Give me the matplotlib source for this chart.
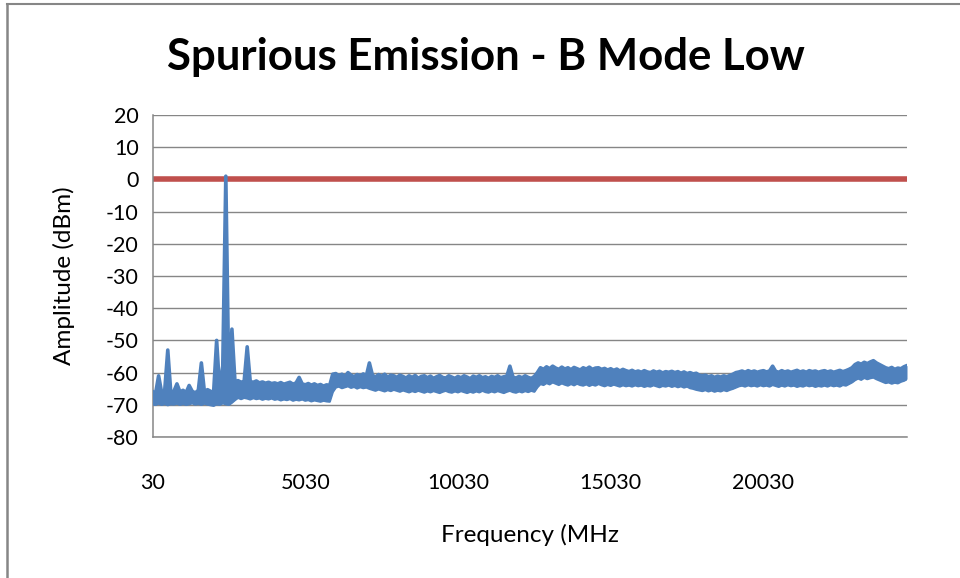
import matplotlib.pyplot as plt
import numpy as np
from matplotlib.lines import Line2D

# sweep: 30 MHz start, one reading every 100 MHz
freq_start_mhz = 30
freq_step_mhz = 100

# trace envelope per 100 MHz bin (dBm)
trace_max_dbm = [
    -65.8, -66.5, -61.0, -66.2, -65.5, -53.0, -66.3, -65.8, -63.5, -66.0,
    -65.5, -66.2, -64.0, -65.8, -66.3, -65.5, -57.0, -66.0, -65.3, -65.8,
    -66.2, -50.0, -65.5, -58.0, 1.0, -64.0, -46.5, -62.8, -62.5, -63.0,
    -62.7, -52.0, -62.8, -63.0, -62.6, -63.2, -62.9, -63.3, -63.0, -63.4,
    -63.2, -63.5, -63.1, -63.6, -63.3, -63.0, -63.6, -63.2, -61.5, -63.5,
    -63.8, -63.4, -63.9, -63.5, -64.0, -63.7, -64.2, -63.8, -64.0, -60.5,
    -60.3, -61.0, -60.5, -61.2, -60.0, -60.8, -61.3, -60.6, -61.0, -60.4,
    -61.0, -57.0, -60.8, -61.4, -60.6, -61.2, -60.5, -61.5, -60.8, -61.0,
    -61.5, -60.8, -61.2, -61.7, -61.0, -61.5, -60.9, -61.8, -61.2, -61.0,
    -61.6, -61.1, -61.8, -61.3, -60.9, -61.5, -61.7, -61.0, -61.4, -61.8,
    -61.2, -61.6, -61.0, -61.4, -61.9, -61.1, -61.5, -61.0, -61.6, -61.3,
    -61.8, -61.2, -61.5, -61.0, -61.6, -61.3, -61.1, -58.0, -61.4, -61.7,
    -61.2, -61.6, -61.0, -61.5, -61.8, -61.2, -60.0, -58.5, -59.0, -58.2,
    -58.8, -58.0, -58.6, -59.0, -58.3, -58.9, -58.5, -59.1, -58.4, -58.8,
    -59.2, -58.5, -58.9, -58.3, -59.0, -58.6, -58.5, -59.0, -58.7, -59.2,
    -58.8, -59.3, -58.9, -59.5, -59.0, -59.4, -59.7, -59.3, -59.8, -59.5,
    -59.9, -59.4, -59.8, -60.0, -59.5, -59.9, -59.6, -60.1, -59.7, -59.9,
    -59.6, -60.0, -59.7, -60.2, -59.8, -60.3, -60.0, -60.4, -60.2, -60.8,
    -61.0, -60.8, -61.3, -61.0, -61.5, -61.1, -61.4, -61.0, -61.3, -60.9,
    -60.5, -60.0, -59.8, -59.5, -59.9, -59.4, -59.8, -59.5, -59.9, -59.6,
    -59.4, -59.8, -59.5, -58.0, -59.6, -59.9, -59.4, -59.8, -59.5, -59.9,
    -59.6, -59.3, -59.8, -59.5, -59.9, -59.4, -59.7, -59.5, -59.9, -59.6,
    -59.4, -59.8, -59.5, -59.9, -59.6, -59.3, -59.7, -59.4, -59.0, -58.5,
    -57.5, -57.0, -57.4, -56.8, -57.2, -56.7, -56.3, -57.0, -57.5, -58.0,
    -58.5, -58.8, -58.4, -59.0, -58.6, -58.8, -58.2, -57.8,
]
trace_min_dbm = [
    -69.8, -70.0, -69.6, -70.0, -69.7, -70.1, -69.8, -69.9, -69.6, -70.0,
    -69.7, -70.0, -69.8, -69.5, -69.9, -69.7, -70.0, -69.6, -69.9, -70.1,
    -70.3, -69.8, -70.0, -69.5, -69.8, -70.0, -69.3, -68.5, -67.8, -68.2,
    -67.8, -68.0, -68.3, -67.9, -68.2, -68.0, -68.4, -68.1, -68.3, -68.0,
    -68.4, -68.2, -68.6, -68.3, -68.5, -68.2, -68.7, -68.4, -68.6, -68.3,
    -68.7, -68.5, -68.9, -68.6, -68.8, -69.0, -68.7, -68.9, -69.0, -66.0,
    -64.6, -64.3, -64.8, -64.5, -64.2, -64.7, -64.4, -64.9, -64.5, -64.8,
    -64.6, -65.0, -65.3, -65.6, -65.2, -65.5, -65.8, -65.4, -65.7, -65.3,
    -65.6, -65.9, -65.5, -65.8, -66.1, -65.7, -66.0, -65.6, -65.9, -66.2,
    -65.8, -66.1, -65.7, -66.0, -66.3, -65.9, -65.6, -66.0, -66.2, -65.8,
    -66.1, -65.7, -66.0, -66.3, -65.9, -66.2, -65.8, -66.1, -65.6, -66.0,
    -66.2, -65.8, -66.1, -65.7, -66.0, -66.3, -65.9, -65.6, -66.0, -66.2,
    -65.8, -66.1, -65.7, -66.0, -65.6, -65.9, -64.5, -63.5, -63.8, -63.2,
    -63.6, -63.0, -63.4, -63.8, -63.3, -63.7, -64.0, -63.5, -63.9, -63.4,
    -63.8, -64.0, -63.6, -64.1, -63.7, -64.0, -63.5, -63.9, -64.2, -63.8,
    -64.1, -63.7, -64.0, -64.3, -63.9, -64.2, -64.0, -64.3, -63.9, -64.2,
    -64.0, -64.4, -64.1, -64.3, -63.9, -64.2, -64.5, -64.1, -64.3, -64.0,
    -64.4, -64.1, -64.5, -64.2, -64.6, -64.3, -64.8, -65.0, -65.3, -65.5,
    -65.7, -65.4, -65.8, -65.5, -65.9, -65.6, -65.8, -65.4, -65.7, -65.3,
    -65.0, -64.6, -64.2, -64.0, -64.3, -63.9, -64.2, -64.0, -64.3, -63.9,
    -64.2, -64.0, -64.3, -63.8, -64.1, -64.4, -64.0, -64.3, -63.9, -64.2,
    -64.0, -64.4, -64.1, -64.3, -63.9, -64.2, -64.0, -64.4, -64.1, -64.3,
    -64.0, -64.3, -63.9, -64.2, -64.0, -64.3, -63.8, -64.0, -63.5, -63.0,
    -62.3, -61.8, -62.2, -61.6, -62.0, -61.7, -61.5, -62.0, -62.4, -62.8,
    -63.2, -63.0, -63.4, -63.1, -63.3, -62.8, -62.5, -62.0,
]
limit_dbm = 0

y_ticks = [-80, -70, -60, -50, -40, -30, -20, -10, 0, 10, 20]
x_ticks = [30, 5030, 10030, 15030, 20030]

freq = freq_start_mhz + freq_step_mhz * np.arange(len(trace_max_dbm))

plt.rcParams['font.family'] = ['Lato', 'DejaVu Sans']
plt.rcParams['axes.unicode_minus'] = False

GRAY = "#868686"
BLUE = "#4F81BD"
RED = "#C0504D"

fig = plt.figure(figsize=(9.6, 5.78), dpi=100)
fig.patch.set_facecolor("white")

# chart frame (only top and left edges fall inside the picture)
fig.add_artist(Line2D([7 / 960, 1.0], [574 / 578, 574 / 578],
                      transform=fig.transFigure, color=GRAY, lw=1.5))
fig.add_artist(Line2D([7 / 960, 7 / 960], [0.0, 574 / 578],
                      transform=fig.transFigure, color=GRAY, lw=1.8))

ax = fig.add_axes([152.5 / 960, 141 / 578, 754.5 / 960, 322 / 578])

# the trace is a dense band: fill between the envelopes, stroke both edges
ax.fill_between(freq, trace_min_dbm, trace_max_dbm, color=BLUE, lw=0, zorder=3)
ax.plot(freq, trace_max_dbm, color=BLUE, lw=2.6, solid_joinstyle="round",
        solid_capstyle="round", zorder=3)
ax.plot(freq, trace_min_dbm, color=BLUE, lw=1.8, solid_joinstyle="round", zorder=3)
ax.plot([freq[0], freq[-1]], [limit_dbm, limit_dbm], color=RED, lw=4,
        solid_capstyle="butt", zorder=2)

ax.set_xlim(freq[0], freq[-1])
ax.set_ylim(-80, 20)
ax.set_yticks(y_ticks)
ax.set_xticks(x_ticks)
ax.grid(axis="y", color=GRAY, lw=1.0)
ax.grid(axis="x", visible=False)
ax.set_axisbelow(True)

for side in ("top", "right"):
    ax.spines[side].set_visible(False)
for side in ("left", "bottom"):
    ax.spines[side].set_color(GRAY)
    ax.spines[side].set_linewidth(1.1)

ax.tick_params(axis="both", length=0, labelsize=15.5, colors="black")
ax.tick_params(axis="y", pad=10)
ax.tick_params(axis="x", pad=26)

ax.set_ylabel("Amplitude (dBm)", fontsize=17.5, labelpad=22)
ax.set_xlabel("Frequency (MHz", fontsize=17.5, labelpad=22)

fig.text(486 / 960, 1 - 57 / 578, "Spurious Emission - B Mode Low",
         ha="center", va="center", fontsize=31.5, fontweight="bold")

fig.savefig("out.png", dpi=100, facecolor="white")
